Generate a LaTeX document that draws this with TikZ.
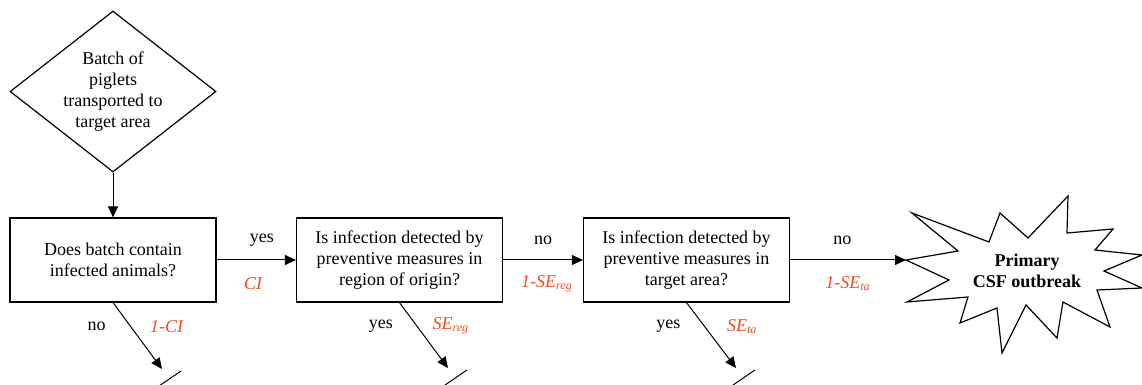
\documentclass[tikz,border=0pt]{standalone}
\usepackage{fontspec}
\setmainfont{Liberation Serif}
\usepackage{xcolor}
\usepackage{tikz}
\usetikzlibrary{shapes,arrows.meta,positioning,calc}
\definecolor{probred}{RGB}{240,75,35}

\begin{document}
\begin{tikzpicture}[x=0.5pt,y=-0.5pt,
  font=\fontsize{9}{10.4}\selectfont,
  box/.style={draw,line width=0.6pt,minimum width=103pt,minimum height=42pt,align=center,inner sep=0pt},
  flow/.style={line width=0.5pt,-{Triangle[length=5.5pt,width=5pt]}},
  prob/.style={font=\fontsize{9}{10.4}\selectfont\itshape,text=probred}]
\useasboundingbox (0,0) rectangle (1142,385);

% Start
\node[diamond,draw,line width=0.6pt,aspect=1.28,inner sep=0pt,minimum width=103pt,minimum height=80.5pt,align=center] (batch) at (113,91.5) {Batch of\\piglets\\transported to\\target area};

% Questions
\node[box] (q1) at (113,260) {Does batch contain\\infected animals?};
\node[box] (q2) at (399.5,260) {Is infection detected by\\preventive measures in\\region of origin?};
\node[box] (q3) at (686.5,260) {Is infection detected by\\preventive measures in\\target area?};

% Outbreak
\draw[line width=0.6pt] (906,260) -- (958,251) -- (912,213) -- (989,242) -- (1000,213) -- (1028,238)
  -- (1068,196) -- (1067,233) -- (1113,229) -- (1095,250) -- (1142,255) -- (1104,271)
  -- (1142,288) -- (1097,290) -- (1110,327) -- (1063,302) -- (1057,338) -- (1026,305)
  -- (1002,353) -- (997,308) -- (960,323) -- (968,297) -- (907,302) -- (949,280) -- cycle;
\coordinate (tip) at (906,260);
\node[font=\fontsize{9}{10.4}\selectfont\bfseries,align=center] (csf) at (1027,271) {Primary\\CSF outbreak};

% Yes / no branches
\draw[flow] (batch.south) -- (q1.north);
\draw[flow] (q1) -- node[pos=0.57,yshift=10pt]{yes} node[prob,pos=0.46,yshift=-12pt]{CI} (q2);
\draw[flow] (q2) -- node[yshift=10pt]{no} node[prob,pos=0.55,yshift=-12pt]{1-SE\textsubscript{reg}} (q3);
\draw[flow] (q3) -- node[pos=0.45,yshift=10pt]{no} node[prob,yshift=-12pt]{1-SE\textsubscript{ta}} (tip);

% Branches that end
\coordinate (stop1) at (162,369);
\coordinate (stop2) at (448,368);
\coordinate (stop3) at (736,368);
\draw[flow] (q1.south) -- node[pos=0.36,xshift=-17pt]{no} node[prob,pos=0.36,xshift=18pt]{1-CI} (stop1);
\draw[flow] (q2.south) -- node[pos=0.36,xshift=-18pt]{yes} node[prob,pos=0.36,xshift=17pt]{SE\textsubscript{reg}} (stop2);
\draw[flow] (q3.south) -- node[pos=0.36,xshift=-18pt]{yes} node[prob,pos=0.36,xshift=19pt]{SE\textsubscript{ta}} (stop3);
\foreach \s in {stop1,stop2,stop3}
    \draw[line width=0.5pt] (\s) ++(-3,17) -- ++(22,-15);
\end{tikzpicture}
\end{document}
